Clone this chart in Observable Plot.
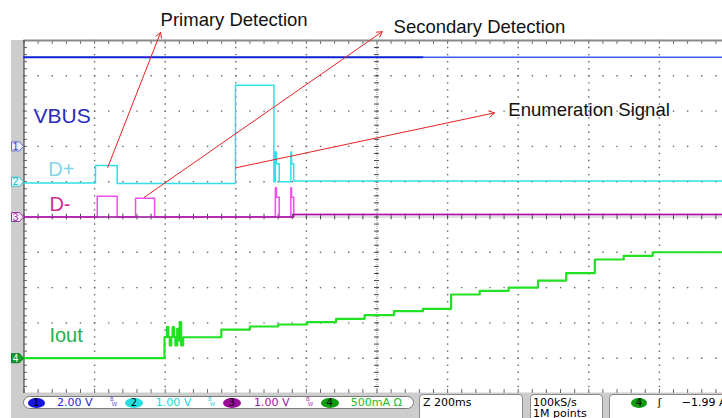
<!DOCTYPE html>
<html><head><meta charset="utf-8">
<script src="https://cdn.jsdelivr.net/npm/d3@7"></script>
<script src="https://cdn.jsdelivr.net/npm/@observablehq/plot@0.6"></script>
<style>
html,body{margin:0;padding:0;background:#fff;overflow:hidden}
#wrap{position:relative;width:722px;height:418px;overflow:hidden}
#gutter{position:absolute;left:11px;top:40px;width:12.5px;height:353px;background:#cdcdcd}
#chart{position:absolute;left:0;top:0;width:730px}
#chart svg{max-width:none !important}
#status{position:absolute;left:0;top:393px;width:722px;height:25px;background:linear-gradient(to right,#fff 0,#fff 11px,#cdcdcd 11px);font-family:"DejaVu Sans",sans-serif;font-size:11px;line-height:12px;overflow:hidden}
#status .pill{position:absolute;left:23px;top:3px;width:391px;height:13px;box-sizing:border-box;border:1px solid #7a7a7a;border-radius:7px;background:#fff}
#status .box{position:absolute;top:1px;height:30px;box-sizing:border-box;border:1px solid #8a8a8a;border-radius:4px 4px 0 0;background:#fff}
#status .ov{position:absolute;top:4.5px;height:10px;border-radius:50%;text-align:center;font-size:10px;line-height:10px;color:#000}
#status .t{position:absolute;top:3.5px;white-space:nowrap}
#status .bw{position:absolute;top:4px;font-size:5.5px;line-height:5px;white-space:nowrap}
</style>
</head><body>
<div id="wrap">
  <div id="gutter"></div>
  <div id="chart"></div>
  <div id="status">
    <div class="pill"></div>
    <span class="ov" style="left:27.7px;width:17px;background:#1515e0">1</span>
    <span class="t" style="left:57px;color:#2222dd">2.00 V</span>
    <span class="bw" style="left:110px;color:#5050dd">B<br>&nbsp;W</span>
    <span class="ov" style="left:125px;width:18px;background:#22dede">2</span>
    <span class="t" style="left:155.7px;color:#22d8dd">1.00 V</span>
    <span class="bw" style="left:208px;color:#33cccc">B<br>&nbsp;W</span>
    <span class="ov" style="left:222.7px;width:18px;background:#9a0a9a">3</span>
    <span class="t" style="left:254px;color:#a010a0">1.00 V</span>
    <span class="bw" style="left:306px;color:#b030b0">B<br>&nbsp;W</span>
    <span class="ov" style="left:320.7px;width:18px;background:#109a10">4</span>
    <span class="t" style="left:350.7px;color:#22bb22">500mA Ω</span>
    <div class="box" style="left:419px;width:104px"></div>
    <span class="t" style="left:423px;color:#000">Z 200ms</span>
    <div class="box" style="left:530px;width:73px"></div>
    <span class="t" style="left:533px;color:#000;line-height:11px">100kS/s</span>
    <span class="t" style="left:533px;top:15px;color:#000;line-height:11px">1M points</span>
    <div class="box" style="left:609px;width:120px"></div>
    <span class="ov" style="left:630.7px;width:16.3px;background:#109a10">4</span>
    <span class="t" style="left:657.7px;color:#000">ʃ</span>
    <span class="t" style="left:681.7px;color:#000">−1.99 A</span>
  </div>
</div>
<script>
// ---- channel setup (ground position in divisions, units per division)
const channels = ["VBUS", "D+", "D-", "Iout"];
const chGround = {"VBUS": 7, "D+": 6, "D-": 5, "Iout": 1};
const chScale  = {"VBUS": 2, "D+": 1, "D-": 1, "Iout": 500};

// ---- series (time in ms, step-after samples)
const vbusTime = [0, 1130, 2000];
const vbusVolt = [5.05, 5.05, 5.07];

const dplusTime = [0, 202.5, 264, 599, 708, 712, 715, 723, 756, 758, 764, 2000];
const dplusVolt = [-0.04, 0.46, -0.05, 2.73, 0.0, 0.84, 0.51, 0.0, 0.84, 0.51, 0.02, 0.02];

const dminusTime = [0, 207.5, 264, 316, 370, 712, 715, 723, 756, 758, 764, 2000];
const dminusVolt = [0, 0.59, 0, 0.53, 0, 0.83, 0.56, 0, 0.83, 0.56, 0.07, 0.07];

const ioutTime = [0, 398, 405, 409, 413, 417, 421, 425, 429, 434, 438, 441, 445, 451, 559, 640, 720, 802, 884, 965, 1048, 1130, 1210, 1291, 1373, 1456, 1536, 1617, 1699, 1781, 2000];
const ioutMilliamp = [0, 300, 439, 300, 180, 300, 439, 300, 180, 416, 250, 510, 180, 297, 406, 449, 477, 510, 558, 609, 666, 700, 902, 955, 1001, 1100, 1204, 1398, 1450, 1501, 1501];

// ---- grid spec (200 ms / div horizontally, 10 divisions vertically)
const majorT = d3.range(0, 2001, 200);
const majorV = d3.range(0, 11, 1);
const minorT = d3.range(0, 2000.1, 40);
const minorV = d3.range(0, 10.01, 0.2);

// ---- text
const traceLabels = [
  {ch: "VBUS", text: "VBUS", t: 27, y: 7.66, color: "#2a2ab8", size: 21},
  {ch: "D+", text: "D+", t: 69, y: 6.15, color: "#86d4e6", size: 20},
  {ch: "D-", text: "D-", t: 72, y: 5.16, color: "#cc2c96", size: 20},
  {ch: "Iout", text: "Iout", t: 72, y: 1.45, color: "#22b04e", size: 20}
];
const notes = [
  {text: "Primary Detection", t: 387, y: 10.4},
  {text: "Secondary Detection", t: 1047, y: 10.2},
  {text: "Enumeration Signal", t: 1372, y: 7.85}
];
const pointers = [
  {t1: 237, y1: 6.40, t2: 387, y2: 10.23},
  {t1: 341, y1: 5.56, t2: 1015, y2: 10.25},
  {t1: 599, y1: 6.39, t2: 1333, y2: 7.95}
];
const markers = [
  {ch: "VBUS", num: "1", fill: "#ececfa", stroke: "#6b6be0", ink: "#4040e0"},
  {ch: "D+", num: "2", fill: "#eafafa", stroke: "#30c4cc", ink: "#20b4c4"},
  {ch: "D-", num: "3", fill: "#f8eaf8", stroke: "#a030a0", ink: "#a030a0"},
  {ch: "Iout", num: "4", fill: "#10a030", stroke: "#0a7a20", ink: "#ffffff"}
];

const rows = (ts, vs, ch) => ts.map((t, i) => ({t, v: vs[i], ch}));
const vbus = rows(vbusTime, vbusVolt, "VBUS");
const dplus = rows(dplusTime, dplusVolt, "D+");
const dminus = rows(dminusTime, dminusVolt, "D-");
const iout = rows(ioutTime, ioutMilliamp, "Iout");
const div = d => chGround[d.ch] + d.v / chScale[d.ch];

// dotted graticule: dots every 1/5 division along each major line
const innerT = majorT.filter(t => t > 0 && t !== 1000);
const innerV = majorV.filter(v => v > 0 && v < 10 && v !== 5);
const gridDots = [
  ...d3.cross(innerT, minorV).map(([t, v]) => ({t, v})),
  ...d3.cross(minorT, innerV).map(([t, v]) => ({t, v}))
];

const tab = {
  draw(ctx) {
    ctx.moveTo(-6, -4.5); ctx.lineTo(2, -4.5); ctx.lineTo(6, 0);
    ctx.lineTo(2, 4.5); ctx.lineTo(-6, 4.5); ctx.closePath();
  }
};

const chart = Plot.plot({
  width: 730, height: 393,
  marginLeft: 23.5, marginRight: 0.5, marginTop: 40, marginBottom: 0,
  x: {domain: [0, 2000], axis: null},
  y: {domain: [0, 10], axis: null},
  style: {background: "transparent", overflow: "visible", maxWidth: "none", fontFamily: "'Liberation Sans', Arial, sans-serif"},
  marks: [
    Plot.dot(gridDots, {x: "t", y: "v", r: 0.8, fill: "#666", stroke: null, symbol: "square"}),
    Plot.ruleX([1000], {stroke: "#888", strokeDasharray: "1,1"}),
    Plot.ruleY([5], {stroke: "#888", strokeDasharray: "1,1"}),
    Plot.ruleY(minorV, {y: d => d, x1: 993, x2: 1007, stroke: "#444"}),
    Plot.ruleX(minorT, {x: d => d, y1: 4.92, y2: 5.08, stroke: "#444"}),
    Plot.ruleX(minorT, {x: d => d, y1: 10, y2: 9.89, stroke: "#666"}),
    Plot.ruleX(minorT, {x: d => d, y1: 0, y2: 0.11, stroke: "#666"}),
    Plot.ruleY(minorV, {y: d => d, x1: 0, x2: 10, stroke: "#666"}),
    Plot.ruleY([10], {stroke: "#8a8a8a", strokeWidth: 2}),
    Plot.ruleY([0], {stroke: "#9a9a9a", strokeWidth: 1.5}),
    Plot.ruleX([0], {stroke: "#4a4a4a", strokeWidth: 1.2}),

    Plot.line(vbus.filter(d => d.t <= 1130), {x: "t", y: div, curve: "step-after", stroke: "#0c22d2", strokeWidth: 2}),
    Plot.line(vbus.filter(d => d.t >= 1130), {x: "t", y: div, curve: "step-after", stroke: "#3d5cf0", strokeWidth: 1.3}),
    Plot.line(dplus, {x: "t", y: div, curve: "step-after", stroke: "#30dfe8", strokeWidth: 1.5}),
    Plot.line(dminus, {x: "t", y: div, curve: "step-after", stroke: "#f04cf0", strokeWidth: 1.5}),
    Plot.line(dminus.filter(d => d.v < 0.1), {x: "t", y: div, curve: "step-after", stroke: "#a0169f", strokeWidth: 1.5}),
    Plot.line(iout, {x: "t", y: div, curve: "step-after", stroke: "#22e022", strokeWidth: 2.2}),

    Plot.arrow(pointers, {x1: "t1", y1: "y1", x2: "t2", y2: "y2", stroke: "#e82222", strokeWidth: 1, headLength: 9}),

    Plot.dot(markers, {x: 0, y: d => chGround[d.ch], symbol: tab, r: 5, fill: "fill", stroke: "stroke", strokeWidth: 1, dx: -6.5}),
    Plot.text(markers, {x: 0, y: d => chGround[d.ch], text: "num", fill: "ink", fontSize: 10, dx: -8.5, dy: 0.5}),

    Plot.text(traceLabels, {x: "t", y: "y", text: "text", fill: "color", fontSize: d => d.size, textAnchor: "start", lineAnchor: "bottom"}),
    Plot.text(notes, {x: "t", y: "y", text: "text", fill: "#111", fontSize: 18.5, textAnchor: "start", lineAnchor: "bottom"})
  ]
});
document.getElementById("chart").appendChild(chart);
</script>
</body></html>
